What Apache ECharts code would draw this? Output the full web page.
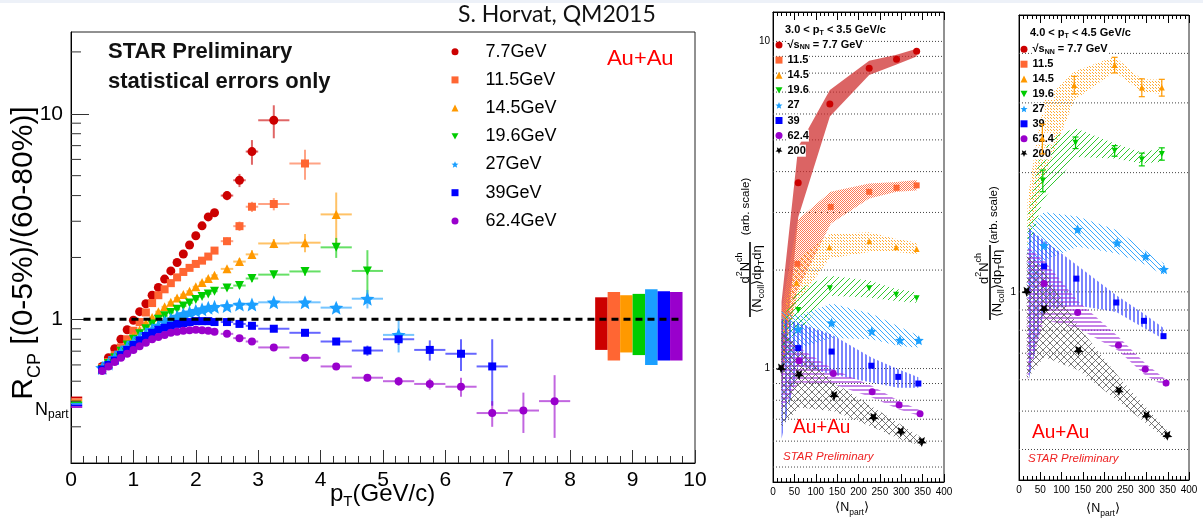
<!DOCTYPE html>
<html>
<head>
<meta charset="utf-8">
<script src="https://cdn.jsdelivr.net/npm/echarts@6/dist/echarts.min.js"></script>
<style>
  html, body { margin: 0; padding: 0; background: #fff; }
  #c { width: 1203px; height: 523px; }
</style>
</head>
<body>
<div id="c"></div>
<script>
// ---------------- R_CP vs pT (left panel) ----------------
const ptFine = [0.5, 0.6, 0.7, 0.8, 0.9, 1.0, 1.1, 1.2, 1.3, 1.4, 1.5, 1.6, 1.7, 1.8, 1.9, 2.0, 2.1, 2.2, 2.3];
const ptTail = [2.5, 2.7, 2.9, 3.25, 3.75, 4.25, 4.75, 5.25, 5.75, 6.25, 6.75, 7.25, 7.75];

const energyNames = ['7.7GeV', '11.5GeV', '14.5GeV', '19.6GeV', '27GeV', '39GeV', '62.4GeV'];
const energyColors = ['#cc0000', '#ff6633', '#ff9900', '#00cc00', '#1a9fff', '#0000ff', '#9900cc'];

const rcp77  = [0.59, 0.65, 0.72, 0.80, 0.89, 0.99, 1.09, 1.19, 1.31, 1.43, 1.57, 1.72, 1.89, 2.08, 2.30, 2.55, 2.85, 3.15, 3.30,
                4.0, 4.75, 6.55, 9.3];
const rcp115 = [0.58, 0.62, 0.67, 0.73, 0.80, 0.88, 0.97, 1.08, 1.20, 1.31, 1.40, 1.50, 1.60, 1.70, 1.78, 1.86, 1.93, 2.02, 2.16,
                2.40, 2.84, 3.53, 3.64, 5.73];
const rcp145 = [0.57, 0.61, 0.66, 0.71, 0.77, 0.83, 0.89, 0.96, 1.02, 1.09, 1.15, 1.21, 1.27, 1.32, 1.37, 1.44, 1.51, 1.58, 1.64,
                1.76, 1.91, 2.07, 2.34, 2.36, 3.24];
const rcp196 = [0.57, 0.61, 0.65, 0.70, 0.75, 0.80, 0.85, 0.90, 0.95, 1.00, 1.04, 1.08, 1.12, 1.16, 1.20, 1.25, 1.29, 1.33, 1.37,
                1.42, 1.46, 1.58, 1.65, 1.71, 2.24, 1.72];
const rcp27  = [0.58, 0.61, 0.65, 0.69, 0.73, 0.77, 0.81, 0.85, 0.89, 0.93, 0.97, 1.00, 1.03, 1.06, 1.08, 1.10, 1.12, 1.14, 1.15,
                1.16, 1.18, 1.18, 1.21, 1.21, 1.14, 1.26, 0.84];
const rcp39  = [0.57, 0.60, 0.63, 0.67, 0.71, 0.75, 0.79, 0.83, 0.86, 0.89, 0.91, 0.93, 0.95, 0.96, 0.97, 0.98, 0.98, 0.98, 0.97,
                0.97, 0.95, 0.93, 0.90, 0.86, 0.78, 0.705, 0.80, 0.71, 0.68, 0.59];
const rcp624 = [0.56, 0.59, 0.62, 0.65, 0.68, 0.71, 0.74, 0.77, 0.80, 0.82, 0.84, 0.86, 0.87, 0.88, 0.885, 0.89, 0.885, 0.88, 0.87,
                0.85, 0.81, 0.78, 0.73, 0.65, 0.59, 0.52, 0.50, 0.485, 0.47, 0.35, 0.36, 0.40];

// statistical errors of the wide high-pT bins (fine bins have negligible errors)
const tailErr77  = [0.2, 0.35, 0.9, 1.7];
const tailErr115 = [0.1, 0.15, 0.2, 0.25, 0.95];
const tailErr145 = [0.05, 0.07, 0.1, 0.12, 0.24, 0.9];
const tailErr196 = [0.04, 0.05, 0.06, 0.06, 0.08, 0.25, 0.45];
const tailErr27  = [0.03, 0.03, 0.03, 0.03, 0.05, 0.06, 0.13, 0.15];
const tailErr39  = [0.02, 0.02, 0.02, 0.02, 0.03, 0.03, 0.04, 0.05, 0.08, 0.12, 0.21];
const tailErr624 = [0.02, 0.02, 0.02, 0.02, 0.02, 0.02, 0.02, 0.025, 0.03, 0.05, 0.05, 0.08, 0.135];

const rcpValues = [rcp77, rcp115, rcp145, rcp196, rcp27, rcp39, rcp624];
const rcpErrors = [tailErr77, tailErr115, tailErr145, tailErr196, tailErr27, tailErr39, tailErr624];

// normalisation uncertainty boxes
const sysCenter = [8.5, 8.7, 8.9, 9.1, 9.3, 9.5, 9.7];
const sysLow  = [0.71, 0.63, 0.69, 0.67, 0.60, 0.63, 0.63];
const sysHigh = [1.28, 1.36, 1.31, 1.33, 1.40, 1.37, 1.36];

// Npart scaling levels
const npartLow  = [0.413, 0.406, 0.399, 0.392, 0.385, 0.378, 0.371];
const npartHigh = [0.421, 0.413, 0.406, 0.399, 0.392, 0.385, 0.378];
const npartRange = [0, 0.18];

const unityLine = [[0.2, 1], [9.8, 1]];
const minorTicksY = [0.3, 0.4, 0.5, 0.6, 0.7, 0.8, 0.9, 2, 3, 4, 5, 6, 7, 8, 9, 20];

// ---------------- yields vs <Npart> (right panels) ----------------
const panelKeys = ['7.7', '11.5', '14.5', '19.6', '27', '39', '62.4', '200'];
const panelColors = ['#cc0000', '#ff6633', '#ff9900', '#00cc00', '#1a9fff', '#0000ff', '#9900cc', '#000000'];

// 3.0 < pT < 3.5 GeV/c
const npA = [
  [20, 59, 133, 225, 289, 336], [20, 57, 135, 225, 289, 336], [20, 55, 132, 225, 288, 336], [20, 59, 133, 225, 288, 336],
  [20, 59, 137, 231, 297, 341], [20, 59, 137, 230, 293, 340], [20, 61, 141, 232, 295, 344], [19, 61, 143, 235, 299, 348]
];
const valA = [
  [null, 3.7, 6.44, 8.28, 8.82, 9.33], [null, 2.09, 3.12, 3.47, 3.57, 3.63], [null, 1.83, 2.35, 2.45, 2.35, 2.32],
  [null, 1.51, 1.76, 1.76, 1.68, 1.64], [null, 1.32, 1.38, 1.30, 1.22, 1.22], [null, 1.155, 1.127, 1.02, 0.943, 0.90],
  [null, 1.056, 0.965, 0.85, 0.774, 0.728], [1.0, 0.956, 0.825, 0.707, 0.64, 0.596]
];
const loA = [
  [0.85, 2.9, 5.9, 7.9, 8.5, 9.0], [1.0, 1.73, 2.77, 3.31, 3.47, 3.5], [1.0, 1.58, 2.17, 2.27, 2.27, 2.24],
  [1.0, 1.3, 1.67, 1.65, 1.61, 1.59], [0.95, 1.15, 1.24, 1.23, 1.17, 1.16], [0.61, 1.02, 0.96, 0.906, 0.874, 0.874],
  [0.75, 0.906, 0.896, 0.815, 0.75, 0.716], [0.66, 0.76, 0.74, 0.66, 0.607, 0.58]
];
const hiA = [
  [1.6, 4.76, 7.1, 8.73, 9.1, 9.5], [1.5, 2.84, 3.47, 3.68, 3.72, 3.77], [1.4, 2.14, 2.58, 2.61, 2.49, 2.43],
  [1.4, 1.75, 1.92, 1.86, 1.75, 1.71], [1.5, 1.45, 1.58, 1.47, 1.34, 1.26], [1.42, 1.38, 1.27, 1.08, 0.995, 0.94],
  [1.3, 1.16, 0.995, 0.885, 0.796, 0.745], [1.30, 1.16, 0.906, 0.76, 0.675, 0.614]
];

// 4.0 < pT < 4.5 GeV/c (from 14.5 GeV upwards)
const keysB = ['14.5', '19.6', '27', '39', '62.4', '200'];
const npB = [
  [20, 55, 130, 225, 289, 336], [20, 56, 133, 225, 289, 336], [20, 59, 138, 231, 298, 341],
  [20, 59, 135, 229, 294, 340], [20, 59, 138, 234, 297, 346], [18, 59, 140, 235, 300, 349]
];
const valB = [
  [null, 2.44, 3.33, 3.74, 3.28, 3.28], [null, 1.91, 2.38, 2.27, 2.16, 2.23], [null, 1.31, 1.44, 1.33, 1.23, 1.14],
  [null, 1.16, 1.08, 0.94, 0.845, 0.773], [null, 1.05, 0.887, 0.733, 0.638, 0.589], [1.0, 0.903, 0.71, 0.562, 0.486, 0.433]
];
const errB = [
  [0, 0.21, 0.17, 0.17, 0.17, 0.16], [0, 0.12, 0.08, 0.07, 0.08, 0.08], [0, 0, 0, 0, 0, 0],
  [0, 0, 0, 0, 0, 0], [0, 0, 0, 0, 0, 0], [0, 0, 0, 0, 0, 0]
];
const loB = [
  [1.3, 1.9, 3.05, 3.59, 3.2, 3.16], [1.25, 1.70, 2.19, 2.17, 2.11, 2.13], [0.95, 1.2, 1.30, 1.25, 1.17, 1.10],
  [0.58, 0.9, 0.925, 0.89, 0.81, 0.76], [0.6, 0.85, 0.81, 0.71, 0.616, 0.576], [0.6, 0.685, 0.634, 0.528, 0.465, 0.42]
];
const hiB = [
  [1.7, 3.0, 3.6, 3.92, 3.44, 3.43], [1.55, 2.41, 2.59, 2.37, 2.25, 2.3], [1.45, 1.59, 1.55, 1.43, 1.27, 1.18],
  [1.45, 1.35, 1.17, 0.98, 0.88, 0.81], [1.3, 1.2, 0.95, 0.77, 0.66, 0.60], [1.27, 1.13, 0.816, 0.61, 0.51, 0.447]
];

const gridLinesA = [0.5, 0.6, 0.7, 0.8, 0.9, 1, 2, 3, 4, 5, 6, 7, 8, 9, 10];
const gridLinesB = [0.4, 0.5, 0.6, 0.7, 0.8, 0.9, 1, 2, 3, 4];

// ---------------- helpers ----------------
const FONT = 'Liberation Sans, Arial, sans-serif';
const STAR = 'path://M0,-10L2.645,-3.64L9.51,-3.09L4.28,1.39L5.88,8.09L0,4.5L-5.88,8.09L-4.28,1.39L-9.51,-3.09L-2.645,-3.64Z';
const STAR_DOWN = 'path://M0,10L2.645,3.64L9.51,3.09L4.28,-1.39L5.88,-8.09L0,-4.5L-5.88,-8.09L-4.28,-1.39L-9.51,3.09L-2.645,3.64Z';
const TRI_DOWN = 'path://M0,0L10,0L5,9Z';
const mainSymbols = ['circle', 'rect', 'triangle', TRI_DOWN, STAR, 'rect', 'circle'];
const mainSizes = [9, 8, 9, 9, 14, 8, 8];
const panelSymbols = ['circle', 'rect', 'triangle', TRI_DOWN, STAR, 'rect', 'circle', STAR_DOWN];
const panelSizes = [7, 6, 6, 6, 10, 6, 7, 10];

function pattern(kind, color, step, lw) {
  const c = document.createElement('canvas');
  c.width = step; c.height = step;
  const g = c.getContext('2d');
  g.strokeStyle = color; g.fillStyle = color; g.lineWidth = lw || 1;
  if (kind === 'dots') { g.fillRect(0, 0, 1, 1); g.fillRect(1, 1, 1, 1); }
  else {
    g.beginPath();
    if (kind === 'v') { g.moveTo(step / 2, 0); g.lineTo(step / 2, step); }
    if (kind === 'h') { g.moveTo(0, step / 2); g.lineTo(step, step / 2); }
    if (kind === 'up' || kind === 'x') {
      for (let k = -1; k <= 1; k++) { g.moveTo(k * step, step); g.lineTo(k * step + step, 0); }
    }
    if (kind === 'down' || kind === 'x') {
      for (let k = -1; k <= 1; k++) { g.moveTo(k * step, 0); g.lineTo(k * step + step, step); }
    }
    g.stroke();
  }
  return { image: c, repeat: 'repeat' };
}

const bandFills = {
  '7.7': 'rgba(205,40,40,0.72)',
  '11.5': pattern('dots', '#ff7a55', 2),
  '14.5': pattern('dots', '#ffaa33', 3),
  '19.6': pattern('up', '#2fc82f', 6, 1),
  '27': pattern('down', '#3aa8ff', 5, 1),
  '39': pattern('v', '#2233ff', 4, 1.2),
  '62.4': pattern('h', '#a030d8', 4, 1.2),
  '200': pattern('x', '#555555', 7, 0.8)
};

const series = [];

// minor ticks of the log R_CP axis
series.push({
  type: 'custom', xAxisIndex: 0, yAxisIndex: 0, silent: true, z: 3,
  data: minorTicksY.map(v => [0, v]),
  renderItem: (params, api) => {
    const p = api.coord([0, api.value(1)]);
    const cs = params.coordSys;
    return { type: 'line', shape: { x1: cs.x, y1: p[1], x2: cs.x + 10, y2: p[1] },
             style: { stroke: '#333', lineWidth: 1 } };
  }
});

// normalisation boxes
series.push({
  type: 'custom', xAxisIndex: 0, yAxisIndex: 0, silent: true, z: 2,
  data: sysCenter.map((c, i) => [c, sysLow[i], sysHigh[i]]),
  renderItem: (params, api) => {
    const a = api.coord([api.value(0) - 0.1, api.value(2)]);
    const b = api.coord([api.value(0) + 0.1, api.value(1)]);
    return { type: 'rect', shape: { x: a[0], y: a[1], width: b[0] - a[0], height: b[1] - a[1] },
             style: { fill: energyColors[params.dataIndex] } };
  }
});

// Npart scaling levels
series.push({
  type: 'custom', xAxisIndex: 0, yAxisIndex: 0, silent: true, z: 2,
  data: npartLow.map((l, i) => [npartRange[0], l, npartHigh[i]]),
  renderItem: (params, api) => {
    const a = api.coord([npartRange[0], api.value(2)]);
    const b = api.coord([npartRange[1], api.value(1)]);
    return { type: 'rect', shape: { x: a[0], y: a[1], width: b[0] - a[0], height: b[1] - a[1] },
             style: { fill: energyColors[params.dataIndex] } };
  }
});

// unity reference
series.push({
  type: 'line', xAxisIndex: 0, yAxisIndex: 0, data: unityLine, symbol: 'none', silent: true, z: 6,
  lineStyle: { color: '#000', width: 3, type: [7, 5] }
});

const nFine = ptFine.length;
rcpValues.forEach((vals, i) => {
  const color = energyColors[i];
  const pts = vals.map((v, k) => (k < nFine ? ptFine[k] : ptTail[k - nFine]));
  const errs = vals.map((v, k) => (k < nFine ? 0 : rcpErrors[i][k - nFine]));
  const halfWidth = p => (p < 2.4 ? 0.05 : (p < 3 ? 0.1 : 0.25));
  series.push({
    type: 'custom', xAxisIndex: 0, yAxisIndex: 0, silent: true, z: 3 + i * 0.1,
    dimensions: ['pt', 'rcp', 'err', 'hw'], encode: { x: 0, y: 1 },
    data: vals.map((v, k) => [pts[k], v, errs[k], halfWidth(pts[k])]),
    renderItem: (params, api) => {
      const x = api.value(0), y = api.value(1), e = api.value(2), hw = api.value(3);
      const a = api.coord([x - hw, y]), b = api.coord([x + hw, y]);
      const children = [{ type: 'line', shape: { x1: a[0], y1: a[1], x2: b[0], y2: b[1] },
                          style: { stroke: color, lineWidth: 2, opacity: 0.6 } }];
      if (e > 0) {
        const c = api.coord([x, y + e]), d = api.coord([x, y - e]);
        children.push({ type: 'line', shape: { x1: c[0], y1: c[1], x2: d[0], y2: d[1] },
                        style: { stroke: color, lineWidth: 2, opacity: 0.6 } });
      }
      return { type: 'group', children };
    }
  });
  series.push({
    type: 'scatter', name: energyNames[i], xAxisIndex: 0, yAxisIndex: 0, z: 4 + i * 0.1,
    symbol: mainSymbols[i], symbolSize: mainSizes[i],
    itemStyle: { color, opacity: 1 },
    data: vals.map((v, k) => [pts[k], v])
  });
});

// panels
function gridLineSeries(values, xIdx, yIdx) {
  return {
    type: 'custom', xAxisIndex: xIdx, yAxisIndex: yIdx, silent: true, z: 1,
    data: values.map(v => [0, v]),
    renderItem: (params, api) => {
      const p = api.coord([0, api.value(1)]);
      const cs = params.coordSys;
      return { type: 'line', shape: { x1: cs.x, y1: p[1], x2: cs.x + cs.width, y2: p[1] },
               style: { stroke: '#444', lineWidth: 1, lineDash: [1, 2] } };
    }
  };
}

function bandSeries(np, lo, hi, fill, xIdx, yIdx, z) {
  return {
    type: 'custom', xAxisIndex: xIdx, yAxisIndex: yIdx, silent: true, z,
    data: [[np[0], lo[0]]],
    renderItem: (params, api) => {
      const pts = [];
      for (let k = 0; k < np.length; k++) pts.push(api.coord([np[k], hi[k]]));
      for (let k = np.length - 1; k >= 0; k--) pts.push(api.coord([np[k], lo[k]]));
      return { type: 'polygon', shape: { points: pts }, style: { fill } };
    }
  };
}

function pointSeries(key, np, vals, xIdx, yIdx, z) {
  const i = panelKeys.indexOf(key);
  const data = [];
  np.forEach((n, k) => { if (vals[k] !== null) data.push([n, vals[k]]); });
  return {
    type: 'scatter', name: 'E' + key, xAxisIndex: xIdx, yAxisIndex: yIdx, z,
    symbol: panelSymbols[i], symbolSize: panelSizes[i],
    itemStyle: { color: panelColors[i], opacity: 1 }, data
  };
}

series.push(gridLineSeries(gridLinesA, 1, 1));
series.push(gridLineSeries(gridLinesB, 3, 2));

panelKeys.forEach((key, i) => {
  series.push(bandSeries(npA[i], loA[i], hiA[i], bandFills[key], 1, 1, 2 + i * 0.05));
  series.push(pointSeries(key, npA[i], valA[i], 1, 1, 5 + i * 0.05));
});

keysB.forEach((key, i) => {
  const color = panelColors[panelKeys.indexOf(key)];
  series.push(bandSeries(npB[i], loB[i], hiB[i], bandFills[key], 3, 2, 2 + i * 0.05));
  series.push({
    type: 'custom', xAxisIndex: 3, yAxisIndex: 2, silent: true, z: 4,
    data: npB[i].map((n, k) => [n, valB[i][k], errB[i][k]]).filter(d => d[1] !== null && d[2] > 0),
    renderItem: (params, api) => {
      const x = api.value(0), y = api.value(1), e = api.value(2);
      const c = api.coord([x, y + e]), d = api.coord([x, y - e]);
      return { type: 'group', children: [
        { type: 'line', shape: { x1: c[0], y1: c[1], x2: d[0], y2: d[1] }, style: { stroke: color, lineWidth: 1.2 } },
        { type: 'line', shape: { x1: c[0] - 3, y1: c[1], x2: c[0] + 3, y2: c[1] }, style: { stroke: color, lineWidth: 1.2 } },
        { type: 'line', shape: { x1: d[0] - 3, y1: d[1], x2: d[0] + 3, y2: d[1] }, style: { stroke: color, lineWidth: 1.2 } }
      ] };
    }
  });
  series.push(pointSeries(key, npB[i], valB[i], 3, 2, 5 + i * 0.05));
});

// ---------------- axes ----------------
function panelX(gridIndex, position) {
  return {
    type: 'value', gridIndex, position, min: 0, max: 400, interval: 50,
    axisLine: { show: true, lineStyle: { color: '#000', width: 1 } },
    axisTick: { inside: true, length: 8, lineStyle: { color: '#000' } },
    minorTick: { show: true, splitNumber: 5, length: 4, lineStyle: { color: '#000' } },
    axisLabel: { show: position === 'bottom', fontSize: 10, color: '#000', margin: 5, fontFamily: FONT },
    splitLine: { show: false }, minorSplitLine: { show: false }
  };
}

function panelY(gridIndex, min, max) {
  return {
    type: 'log', gridIndex, min, max, logBase: 10,
    axisLine: { show: true, lineStyle: { color: '#000' } },
    axisTick: { show: false },
    axisLabel: { fontSize: 10, color: '#000', margin: 3, showMinLabel: false, showMaxLabel: false, fontFamily: FONT },
    splitLine: { show: false }
  };
}

const legendLabels = {
  'E7.7': '{b|√}{o|s}{s|NN}{b| = 7.7 GeV}', 'E11.5': '11.5', 'E14.5': '14.5', 'E19.6': '19.6',
  'E27': '27', 'E39': '39', 'E62.4': '62.4', 'E200': '200'
};
const panelLegendText = {
  fontSize: 11, fontWeight: 'bold', color: '#000', lineHeight: 12, backgroundColor: '#fff', fontFamily: FONT,
  rich: {
    b: { fontSize: 11, fontWeight: 'bold', lineHeight: 12, verticalAlign: 'middle' },
    o: { fontSize: 11, fontWeight: 'bold', lineHeight: 12, verticalAlign: 'middle' },
    s: { fontSize: 7, fontWeight: 'bold', lineHeight: 7, verticalAlign: 'bottom' }
  }
};

function rotatedFraction(cx, cy, num, den, arb) {
  return {
    type: 'group', x: cx, y: cy, rotation: Math.PI / 2, z: 50,
    children: [
      { type: 'text', x: num[0], y: num[1], style: {
          text: '{n|d}{p|2}{n|N}{p|ch}', fill: '#000', align: 'center', verticalAlign: 'middle',
          rich: { n: { fontSize: 13, lineHeight: 16, verticalAlign: 'bottom', fontFamily: FONT },
                  p: { fontSize: 9, lineHeight: 16, verticalAlign: 'top', fontFamily: FONT } } } },
      { type: 'rect', shape: { x: -37, y: -0.8, width: 75, height: 1.6 }, style: { fill: '#000' } },
      { type: 'text', x: den[0], y: den[1], style: {
          text: '{n|⟨N}{b|coll}{n|⟩dp}{b|T}{n|dη}', fill: '#000', align: 'center', verticalAlign: 'middle',
          rich: { n: { fontSize: 13, lineHeight: 18, verticalAlign: 'middle', fontFamily: FONT },
                  b: { fontSize: 9, lineHeight: 9, verticalAlign: 'bottom', fontFamily: FONT } } } },
      { type: 'text', x: arb[0], y: arb[1], style: {
          text: '(arb. scale)', fill: '#000', fontSize: 11.5, fontFamily: FONT, align: 'center', verticalAlign: 'middle' } }
    ]
  };
}

function npartTitle(cx, cy) {
  return { type: 'text', x: cx, y: cy, z: 50, style: {
    text: '{n|⟨N}{s|part}{n|⟩}', fill: '#000', align: 'center', verticalAlign: 'middle',
    rich: { n: { fontSize: 12.5, lineHeight: 18, verticalAlign: 'middle', fontFamily: FONT },
            s: { fontSize: 8.5, lineHeight: 9, verticalAlign: 'bottom', fontFamily: FONT } } } };
}

function ptHeader(x, y, lo, hi) {
  return { type: 'text', x, y, z: 50, style: {
    text: '{b|' + lo + ' < p}{s|T}{b| < ' + hi + ' GeV/c}', fill: '#000', verticalAlign: 'middle',
    rich: { b: { fontSize: 11, fontWeight: 'bold', lineHeight: 14, verticalAlign: 'middle', fontFamily: FONT },
            s: { fontSize: 7, fontWeight: 'bold', lineHeight: 7, verticalAlign: 'bottom', fontFamily: FONT } } } };
}

const option = {
  animation: false,
  backgroundColor: '#fff',
  textStyle: { fontFamily: FONT },
  grid: [
    { left: 71, top: 32, width: 624, height: 431, show: true, borderColor: '#222', borderWidth: 1, backgroundColor: 'transparent' },
    { left: 773, top: 12, width: 171, height: 470, show: true, borderColor: '#222', borderWidth: 1, backgroundColor: 'transparent' },
    { left: 1019, top: 15, width: 170, height: 465, show: true, borderColor: '#222', borderWidth: 1, backgroundColor: 'transparent' }
  ],
  xAxis: [
    {
      type: 'value', gridIndex: 0, min: 0, max: 10, interval: 1,
      axisLine: { show: true, lineStyle: { color: '#000' } },
      axisTick: { inside: true, length: 13, lineStyle: { color: '#333' } },
      minorTick: { show: true, splitNumber: 5, length: 7, lineStyle: { color: '#333' } },
      axisLabel: { fontSize: 21, color: '#000', margin: 7, fontFamily: FONT },
      splitLine: { show: false }, minorSplitLine: { show: false }
    },
    panelX(1, 'bottom'), panelX(1, 'top'), panelX(2, 'bottom'), panelX(2, 'top')
  ],
  yAxis: [
    {
      type: 'log', gridIndex: 0, min: 0.2, max: 25, logBase: 10,
      axisLine: { show: true, lineStyle: { color: '#000' } },
      axisTick: { inside: true, length: 18, lineStyle: { color: '#333' } },
      axisLabel: { fontSize: 21, color: '#000', margin: 8, showMinLabel: false, showMaxLabel: false, fontFamily: FONT },
      splitLine: { show: false }
    },
    panelY(1, 0.45, 12.3),
    panelY(2, 0.335, 5)
  ],
  legend: [
    {
      data: energyNames, orient: 'vertical', left: 451.5, top: 41.7, padding: 0,
      itemWidth: 7, itemHeight: 7, itemGap: 8.2, selectedMode: false,
      textStyle: { fontSize: 18, color: '#000', lineHeight: 20, padding: [0, 0, 0, 22], fontFamily: FONT }
    },
    {
      data: panelKeys.map(k => 'E' + k), orient: 'vertical', left: 775.5, top: 39, padding: 0,
      itemWidth: 7, itemHeight: 7, itemGap: 3.1, selectedMode: false,
      formatter: n => legendLabels[n], textStyle: panelLegendText
    },
    {
      data: panelKeys.map(k => 'E' + k), orient: 'vertical', left: 1020.5, top: 43.3, padding: 0,
      itemWidth: 7, itemHeight: 7, itemGap: 2.9, selectedMode: false,
      formatter: n => legendLabels[n], textStyle: panelLegendText
    }
  ],
  graphic: [
    { type: 'rect', shape: { x: 0, y: 0, width: 1203, height: 3 }, style: { fill: '#edf1f8' }, silent: true },
    { type: 'text', x: 458, y: 15, z: 50, style: { text: 'S. Horvat, QM2015', fontSize: 23, fontFamily: 'Lato', fill: '#111', verticalAlign: 'middle' } },
    { type: 'text', x: 108, y: 52, z: 50, style: { text: 'STAR Preliminary', fontSize: 22, fontWeight: 'bold', fontFamily: FONT, fill: '#111', verticalAlign: 'middle' } },
    { type: 'text', x: 108, y: 82, z: 50, style: { text: 'statistical errors only', fontSize: 22, fontWeight: 'bold', fontFamily: FONT, fill: '#111', verticalAlign: 'middle' } },
    { type: 'text', x: 607, y: 58, z: 50, style: { text: 'Au+Au', fontSize: 22, fontFamily: 'Lato', fill: '#ff0000', verticalAlign: 'middle' } },
    {
      type: 'text', x: 24, y: 253, rotation: Math.PI / 2, z: 50,
      style: {
        text: '{r|R}{s|CP}{r| [(0-5%)/(60-80%)]}', fill: '#000', align: 'center', verticalAlign: 'middle',
        rich: { r: { fontSize: 30, lineHeight: 40, verticalAlign: 'middle', fontFamily: FONT },
                s: { fontSize: 18, lineHeight: 18, verticalAlign: 'bottom', fontFamily: FONT } }
      }
    },
    {
      type: 'text', x: 35, y: 410, z: 50,
      style: {
        text: '{n|N}{s|part}', fill: '#000', verticalAlign: 'middle',
        rich: { n: { fontSize: 18, lineHeight: 22, verticalAlign: 'middle', fontFamily: FONT },
                s: { fontSize: 12, lineHeight: 12, verticalAlign: 'bottom', fontFamily: FONT } }
      }
    },
    {
      type: 'text', x: 330, y: 494, z: 50,
      style: {
        text: '{n|p}{s|T}{n|(GeV/c)}', fill: '#000', verticalAlign: 'middle',
        rich: { n: { fontSize: 24, lineHeight: 30, verticalAlign: 'middle', fontFamily: FONT },
                s: { fontSize: 15, lineHeight: 15, verticalAlign: 'bottom', fontFamily: FONT } }
      }
    },
    ptHeader(785, 30, '3.0', '3.5'),
    ptHeader(1030, 33, '4.0', '4.5'),
    { type: 'text', x: 793, y: 427, z: 50, style: { text: 'Au+Au', fontSize: 19, fontFamily: 'Lato', fill: '#ff0000', verticalAlign: 'middle' } },
    { type: 'text', x: 1032, y: 432, z: 50, style: { text: 'Au+Au', fontSize: 19, fontFamily: 'Lato', fill: '#ff0000', verticalAlign: 'middle' } },
    { type: 'text', x: 783, y: 457, z: 50, style: { text: 'STAR Preliminary', fontSize: 11.5, fontStyle: 'italic', fontFamily: FONT, fill: '#ee2222', verticalAlign: 'middle' } },
    { type: 'text', x: 1028, y: 459, z: 50, style: { text: 'STAR Preliminary', fontSize: 11.5, fontStyle: 'italic', fontFamily: FONT, fill: '#ee2222', verticalAlign: 'middle' } },
    rotatedFraction(750, 280, [12, -6.5], [1, 7], [73.5, -4]),
    rotatedFraction(990, 283, [14.5, -7.5], [-0.5, 7.5], [68, 3.5]),
    npartTitle(852, 508),
    npartTitle(1103, 509)
  ],
  series
};

const chart = echarts.init(document.getElementById('c'), null, { renderer: 'canvas' });
chart.setOption(option);
</script>
</body>
</html>
